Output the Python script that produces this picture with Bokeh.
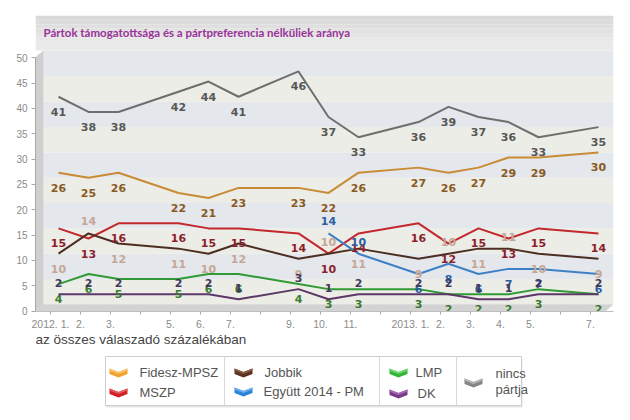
import math
from bokeh.plotting import figure
from bokeh.models import Range1d, LinearAxis, FixedTicker, ColumnDataSource
from bokeh.layouts import column
from bokeh.core.properties import value
from bokeh.embed import file_html
from bokeh.resources import INLINE

NAN = float("nan")

# ---------------- data ----------------
title_text = "Pártok támogatottsága és a pártpreferencia nélküliek aránya"
axis_title = "az összes válaszadó százalékában"
months = [0, 1, 2, 4, 5, 6, 8, 9, 10, 12, 13, 14, 15, 16, 18]
tick_labels = ["2012. 1.", "2.", "3.", "5.", "6.", "7.", "9.", "10.", "11.",
               "2013. 1.", "2.", "3.", "4.", "5.", "7."]
all_months = list(range(0, 19))
y_ticks = [0, 5, 10, 15, 20, 25, 30, 35, 40, 45, 50]

nincs = [41, 38, 38, 42, 44, 41, 46, 37, 33, 36, 39, 37, 36, 33, 35]
fidesz = [26, 25, 26, 22, 21, 23, 23, 22, 26, 27, 26, 27, 29, 29, 30]
mszp = [15, 13, 16, 16, 15, 15, 14, 10, 14, 16, 12, 15, 13, 15, 14]
jobbik = [10, 14, 12, 11, 10, 12, 9, 10, 11, 9, 10, 11, 11, 10, 9]
egyutt = [NAN, NAN, NAN, NAN, NAN, NAN, NAN, 14, 10, 6, 8, 6, 7, 7, 6]
lmp = [4, 6, 5, 5, 6, 6, 4, 3, 3, 3, 2, 2, 2, 3, 2]
dk = [2, 2, 2, 2, 2, 1, 3, 1, 2, 2, 2, 1, 1, 2, 2]

# ---------------- styles ----------------
# name, values, line colour, label colour, default label offset, indices with label above
series = [
    ("nincs pártja", nincs, "#6e6e6e", "#575757", 15, []),
    ("Fidesz-MPSZ", fidesz, "#c98b35", "#8a5a22", 15, []),
    ("MSZP", mszp, "#c3282e", "#8c1f2c", 15, []),
    ("Jobbik", jobbik, "#4d2e22", "#c6a797", 15, [1, 7, 10, 12]),
    ("Együtt 2014 - PM", egyutt, "#3d80c6", "#2c5fa2", 15, [7, 8]),
    ("LMP", lmp, "#2f9a36", "#3a7a30", 15, []),
    ("DK", dk, "#5c3868", "#41395c", -11, []),
]
ABOVE = -12

W = 630
H1 = 332
H2 = 86
FL, FR, FT, FB = 35, 613, 15, 312
X0PX, PPM = 58.0, 30.0
Y0PX, PPU = 304.8, 5.08
WALL_TOP_PX = 50.0
DEPTH_X, DEPTH_Y = 8.0, 6.7

XS = (FL - X0PX) / PPM
XE = (FR - X0PX) / PPM
YS = (Y0PX - FB) / PPU
YE = (Y0PX - FT) / PPU
DX = DEPTH_X / PPM
DY = DEPTH_Y / PPU
YW = (Y0PX - WALL_TOP_PX) / PPU

p = figure(width=W, height=H1, x_range=Range1d(XS, XE), y_range=Range1d(YS, YE),
           output_backend="svg", toolbar_location=None,
           x_axis_location=None, y_axis_location=None,
           min_border_left=FL, min_border_right=W - FR,
           min_border_top=FT, min_border_bottom=H1 - FB)
p.outline_line_color = None
p.grid.visible = False
p.background_fill_color = "white"
p.border_fill_color = "white"
p.extra_x_ranges = {"ax": Range1d(XS + DX, XE + DX)}
p.extra_y_ranges = {"ay": Range1d(YS + DY, YE + DY)}

# header strip (gradient)
hdr_cols = ["#d9d9d9", "#dcdcdc", "#dfdfdf", "#e2e2e2", "#e5e5e5", "#e7e7e7", "#e9e9e9", "#eaeaea"]
n = len(hdr_cols)
for i, c in enumerate(hdr_cols):
    top = YE - (YE - YW) * i / n
    bot = YE - (YE - YW) * (i + 1) / n
    p.quad(left=XS, right=XE, top=top, bottom=bot, fill_color=c, line_color=None)

# back wall bands
for k in range(10):
    col = "#e4e8ec" if k % 2 == 1 else "#ecede6"
    p.quad(left=XS + DX, right=XE, bottom=5 * k, top=(YW if k == 9 else 5 * k + 5),
           fill_color=col, line_color=None)

# left wall and floor
p.patch([XS, XS + DX, XS + DX, XS], [YS, 0, YW, YW - DY], fill_color="#cfcfcf", line_color=None)
p.patch([XS + DX, XE, XE - DX, XS], [0, 0, YS, YS], fill_color="#d3d3d3", line_color=None)

# title
p.text(x=[XS + 8 / PPM], y=[(Y0PX - 32) / PPU], text=[title_text],
       text_font=value("Lato"), text_font_style="bold", text_font_size="11.5px",
       text_color="#993399", text_baseline="middle", text_align="left")

# lines
for name, vals, lc, tc, off, above in series:
    p.line(months, vals, line_color=lc, line_width=2)

# value labels
for name, vals, lc, tc, off, above in series:
    xs, ys, ts, offs = [], [], [], []
    for i, (m, v) in enumerate(zip(months, vals)):
        if isinstance(v, float) and math.isnan(v):
            continue
        xs.append(m)
        ys.append(v)
        ts.append(str(int(v)))
        offs.append(ABOVE if i in above else off)
    src = ColumnDataSource(dict(x=xs, y=ys, t=ts, o=offs))
    p.text(x="x", y="y", text="t", y_offset="o", source=src,
           text_font=value("DejaVu Sans"), text_font_style="bold", text_font_size="11px",
           text_color=tc, text_align="center", text_baseline="middle")

# axes
yaxis = LinearAxis(y_range_name="ay", ticker=FixedTicker(ticks=y_ticks), bounds=(0, 50),
                   axis_line_color="#a8a8a8", major_tick_line_color="#a8a8a8",
                   major_tick_out=4, major_tick_in=0, minor_tick_line_color=None,
                   major_label_text_font="Liberation Sans", major_label_text_font_size="10px",
                   major_label_text_color="#8a8a8a", major_label_standoff=4)
p.add_layout(yaxis, "left")

overrides = {m: "" for m in all_months}
for m, lab in zip(months, tick_labels):
    overrides[m] = lab
xaxis = LinearAxis(x_range_name="ax", ticker=FixedTicker(ticks=all_months),
                   axis_line_color="#c0c0c0", major_tick_line_color="#a8a8a8",
                   major_tick_out=3, major_tick_in=0, minor_tick_line_color=None,
                   major_label_text_font="Liberation Sans", major_label_text_font_size="10.5px",
                   major_label_text_color="#8a8a8a", major_label_standoff=3,
                   major_label_overrides=overrides)
p.add_layout(xaxis, "below")

# ---------------- legend / axis title figure (frame aligned with the chart above) ----------------
p2 = figure(width=W, height=H2, x_range=Range1d(FL, FR), y_range=Range1d(H2, 0),
            output_backend="svg", toolbar_location=None,
            x_axis_location=None, y_axis_location=None,
            min_border_left=FL, min_border_right=W - FR, min_border_top=0, min_border_bottom=0)
p2.outline_line_color = None
p2.grid.visible = False
p2.background_fill_color = "white"
p2.border_fill_color = "white"

p2.text(x=[35], y=[7], text=[axis_title], text_font=value("Liberation Sans"),
        text_font_size="13.5px", text_color="#444444", text_baseline="middle", text_align="left")

# legend box
p2.quad(left=106, right=522, top=26, bottom=75, fill_color="#e6e6e6", line_color=None)
p2.quad(left=105, right=521, top=24, bottom=73, fill_color="white", line_color="#cdcdcd")
p2.segment(x0=[224, 379, 456], y0=[24, 24, 24], x1=[224, 379, 456], y1=[73, 73, 73],
           line_color="#d8d8d8")

legend_items = [
    ("Fidesz-MPSZ", "#f0a22e", "#f7c46e", 118, 40, 139),
    ("MSZP", "#d02024", "#e65a5a", 118, 60, 139),
    ("Jobbik", "#5a3420", "#8a5a40", 243, 40, 264),
    ("Együtt 2014 - PM", "#2c84d6", "#6ab0ec", 243, 59, 263),
    ("LMP", "#33b536", "#74d676", 398, 40, 415),
    ("DK", "#7a3a8a", "#a66ab4", 398, 61, 417),
]
shape = [(-9, -4), (0, -0.5), (9, -4), (9, 1.5), (0, 5), (-9, 1.5)]
hl = [(-9, -4), (0, -0.5), (9, -4), (9, -2), (0, 1.5), (-9, -2)]
for lab, c1, c2, cx, cy, tx in legend_items + [("", "#858585", "#b5b5b5", 473, 50, 495)]:
    p2.patch([cx + a for a, b in shape], [cy + b for a, b in shape], fill_color=c1, line_color=None)
    p2.patch([cx + a for a, b in hl], [cy + b for a, b in hl], fill_color=c2, line_color=None)
    if lab:
        p2.text(x=[tx], y=[cy], text=[lab], text_font=value("Liberation Sans"),
                text_font_size="13px", text_color="#555555", text_baseline="middle",
                text_align="left")
p2.text(x=[495, 495], y=[41, 57], text=["nincs", "pártja"], text_font=value("Liberation Sans"),
        text_font_size="13px", text_color="#555555", text_baseline="middle", text_align="left")

layout = column(p, p2, spacing=0)
open("out.html", "w").write(file_html(layout, INLINE))
